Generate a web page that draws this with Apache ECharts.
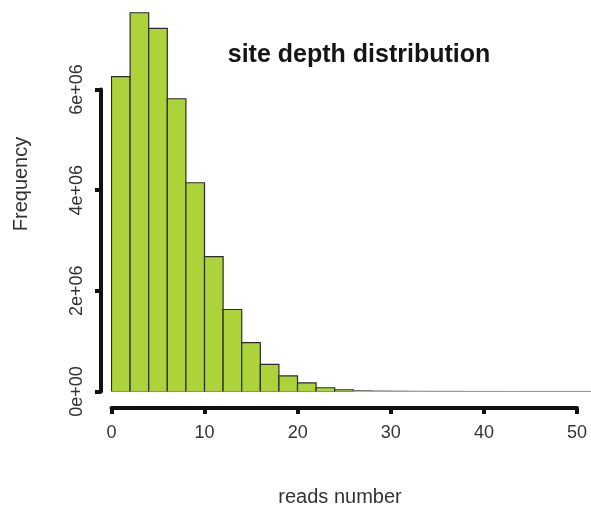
<!DOCTYPE html>
<html>
<head>
<meta charset="utf-8">
<script src="https://cdn.jsdelivr.net/npm/echarts@6/dist/echarts.min.js"></script>
<style>
html,body{margin:0;padding:0;background:#fff;}
#chart{width:591px;height:508px;}
</style>
</head>
<body>
<div id="chart"></div>
<script>
// Histogram bin edges (reads number) and frequencies
const binEdges = [0,2,4,6,8,10,12,14,16,18,20,22,24,26,28,30,32,34,36,38,40,42,44,46,48,50,52];
const frequencies = [6260000,7530000,7220000,5820000,4150000,2680000,1630000,970000,540000,310000,170000,75000,35000,20000,12000,8000,5000,4000,3000,2000,2000,1500,1000,1000,1000,1000];
const xTicks = [0,10,20,30,40,50];
const yTicks = [0,2000000,4000000,6000000];
const yTickLabels = ['0e+00','2e+06','4e+06','6e+06'];

const histData = frequencies.map((f,i)=>[binEdges[i], binEdges[i+1], f]);

const FONT = '"Liberation Sans", Arial, Helvetica, sans-serif';
const chart = echarts.init(document.getElementById('chart'), null, {renderer:'canvas'});

const option = {
  backgroundColor:'#ffffff',
  animation:false,
  title:{
    text:'site depth distribution',
    left:354, top:50, textAlign:'center', textVerticalAlign:'middle',
    textStyle:{fontFamily:FONT, fontWeight:'bold', fontSize:25, color:'#151515'}
  },
  graphic:[
    {type:'text', x:21, y:184, rotation:Math.PI/2,
     style:{text:'Frequency', font:'20px '+FONT, fill:'#333', textAlign:'center', textVerticalAlign:'middle'}},
    {type:'text', x:340, y:497,
     style:{text:'reads number', font:'20px '+FONT, fill:'#333', textAlign:'center', textVerticalAlign:'middle'}}
  ],
  grid:[
    {left:111.5, right:0.5, top:0, bottom:116.5},
    {left:101, width:5, top:89.5, bottom:116.5},
    {left:111.5, right:14, top:300, bottom:100}
  ],
  xAxis:[
    {gridIndex:0, type:'value', min:0, max:51.5, show:false},
    {gridIndex:1, type:'value', min:0, max:1, show:false},
    {gridIndex:2, type:'value', min:0, max:50, interval:10, position:'bottom',
     axisLine:{show:true, lineStyle:{color:'#111', width:4}},
     axisTick:{show:true, length:6, inside:false, lineStyle:{color:'#111', width:4}},
     axisLabel:{show:true, margin:16, fontFamily:FONT, fontSize:18, color:'#333',
       customValues: xTicks},
     splitLine:{show:false}}
  ],
  yAxis:[
    {gridIndex:0, type:'value', min:0, max:7783300, show:false},
    {gridIndex:1, type:'value', min:0, max:6000000, interval:2000000, position:'left',
     axisLine:{show:true, lineStyle:{color:'#111', width:4}},
     axisTick:{show:true, length:6, lineStyle:{color:'#111', width:4}},
     axisLabel:{show:true, rotate:90, margin:15, fontFamily:FONT, fontSize:18, color:'#333',
       formatter:function(v){ const i = yTicks.indexOf(v); return i>=0 ? yTickLabels[i] : ''; }},
     splitLine:{show:false}},
    {gridIndex:2, type:'value', min:0, max:1, show:false}
  ],
  series:[{
    type:'custom',
    xAxisIndex:0, yAxisIndex:0,
    clip:true,
    data:histData,
    renderItem:function(params, api){
      const v = api.value(2);
      const p0 = api.coord([api.value(0), v]);
      const p1 = api.coord([api.value(1), 0]);
      const tiny = (p1[1]-p0[1]) < 1.5;
      return {
        type:'rect',
        shape:{x:p0[0], y:p0[1], width:p1[0]-p0[0], height:p1[1]-p0[1]},
        style:{fill:'#acd43a', stroke: tiny ? '#777' : '#2b2b2b', lineWidth: tiny ? 1 : 1.2}
      };
    }
  }]
};
chart.setOption(option);
</script>
</body>
</html>
